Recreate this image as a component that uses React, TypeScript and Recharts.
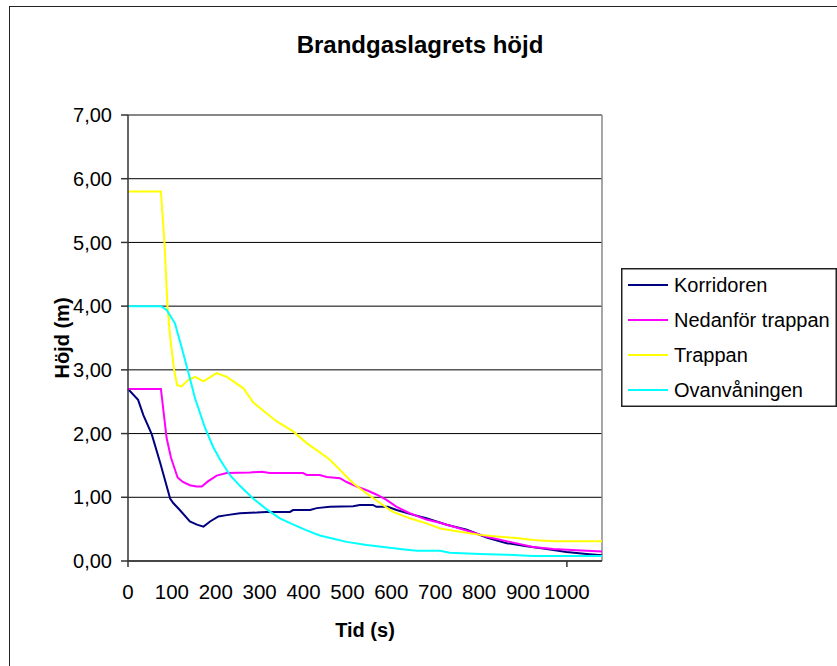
import { LineChart, Line, XAxis, YAxis, CartesianGrid, Legend, ReferenceLine } from 'recharts';

// [tid (s), höjd (m)] per mätpunkt
const korridoren = [
    [0, 2.7], [23, 2.53], [35, 2.29], [54, 1.99], [73, 1.55], [96, 0.98], [103, 0.91],
    [118, 0.8], [141, 0.62], [157, 0.57], [172, 0.54], [187, 0.62], [206, 0.7], [225, 0.72],
    [255, 0.75], [293, 0.76], [315, 0.77], [369, 0.77], [376, 0.8], [415, 0.8], [430, 0.83],
    [460, 0.85], [513, 0.86], [528, 0.88], [558, 0.88], [566, 0.85], [592, 0.85], [612, 0.8],
    [642, 0.74], [680, 0.67], [726, 0.57], [772, 0.49], [817, 0.37], [863, 0.28], [908, 0.23],
    [954, 0.19], [999, 0.14], [1045, 0.11], [1080, 0.09],
];

const nedanforTrappan = [
    [0, 2.7], [75, 2.7], [88, 1.93], [98, 1.62], [113, 1.31], [125, 1.24], [141, 1.19], [156, 1.17],
    [168, 1.17], [182, 1.25], [202, 1.34], [225, 1.38], [278, 1.39], [305, 1.4], [323, 1.38],
    [399, 1.38], [407, 1.35], [437, 1.35], [453, 1.32], [483, 1.3], [498, 1.24], [521, 1.17],
    [544, 1.11], [567, 1.04], [589, 0.96], [612, 0.85], [642, 0.75], [680, 0.65], [711, 0.6],
    [756, 0.51], [817, 0.38], [870, 0.3], [923, 0.22], [969, 0.19], [1022, 0.17], [1080, 0.15],
];

const trappan = [
    [0, 5.8], [75, 5.8], [83, 5.0], [90, 4.0], [96, 3.52], [105, 3.0], [112, 2.76], [122, 2.74],
    [137, 2.84], [153, 2.89], [172, 2.82], [202, 2.95], [225, 2.89], [240, 2.82], [263, 2.71],
    [285, 2.49], [312, 2.34], [339, 2.19], [377, 2.03], [407, 1.85], [430, 1.74], [460, 1.59],
    [483, 1.43], [513, 1.22], [544, 1.06], [574, 0.91], [604, 0.77], [642, 0.67], [680, 0.59],
    [711, 0.51], [756, 0.46], [802, 0.41], [847, 0.38], [885, 0.36], [923, 0.33], [970, 0.31],
    [1080, 0.31],
];

const ovanvaningen = [
    [0, 4.0], [75, 4.0], [88, 3.94], [107, 3.73], [111, 3.63], [122, 3.36], [134, 3.05], [153, 2.55],
    [175, 2.1], [194, 1.79], [210, 1.59], [232, 1.35], [255, 1.18], [285, 0.98], [316, 0.81],
    [346, 0.67], [377, 0.57], [407, 0.48], [437, 0.4], [468, 0.35], [498, 0.3], [544, 0.25],
    [582, 0.22], [620, 0.19], [658, 0.16], [711, 0.16], [733, 0.13], [802, 0.11], [863, 0.1],
    [923, 0.08], [1080, 0.08],
];

const xTicks = [0, 100, 200, 300, 400, 500, 600, 700, 800, 900, 1000];
const yTicks = [0, 1, 2, 3, 4, 5, 6, 7];

const series = [
    { name: 'Korridoren', color: '#000080', points: korridoren },
    { name: 'Nedanför trappan', color: '#FF00FF', points: nedanforTrappan },
    { name: 'Trappan', color: '#FFFF00', points: trappan },
    { name: 'Ovanvåningen', color: '#00FFFF', points: ovanvaningen },
];

const FONT = '"Liberation Sans", Arial, sans-serif';
const X_TICK_MARGIN = 23;

// only the first and last category get a tick mark, like the original sheet
function TidTick(props: any) {
    const { x, y, payload } = props;
    const axisY = y - X_TICK_MARGIN;
    const mark = payload.value === 0 || payload.value === 1000;
    return (
        <g>
            {mark && <line x1={x} x2={x} y1={axisY} y2={axisY + 6} stroke="#333" strokeWidth={1.5} />}
            <text x={x} y={y} dy="0.71em" textAnchor="middle" fontSize={20.5} fontFamily={FONT} fill="#000">
                {payload.value}
            </text>
        </g>
    );
}

function LegendBox() {
    return (
        <svg width={216} height={139} style={{ display: 'block' }}>
            <rect x={0.75} y={0.75} width={214.5} height={137.5} fill="#fff" stroke="#222" strokeWidth={1.5} />
            {series.map((s, i) => {
                const cy = 17 + i * 35;
                return (
                    <g key={s.name}>
                        <line x1={7} x2={47} y1={cy} y2={cy} stroke={s.color} strokeWidth={2} />
                        <text x={53} y={cy} dy="0.36em" fontSize={20} fontFamily={FONT} fill="#000">
                            {s.name}
                        </text>
                    </g>
                );
            })}
        </svg>
    );
}

export default function App() {
    return (
        <div style={{ position: 'absolute', left: 0, top: 0, width: 837, height: 666, overflow: 'hidden', background: '#fff' }}>
            {/* chart frame */}
            <div style={{ position: 'absolute', left: 9, top: 6, width: 900, height: 700, border: '1.5px solid #222' }} />
            <div
                style={{
                    position: 'absolute', left: 0, top: 30, width: 840, height: 30, lineHeight: '30px',
                    textAlign: 'center', fontFamily: FONT, fontWeight: 'bold', fontSize: 24, color: '#000',
                }}
            >
                Brandgaslagrets höjd
            </div>
            <div style={{ position: 'absolute', left: 0, top: 0 }}>
                <LineChart width={837} height={666} margin={{ top: 115, right: 235, bottom: 25, left: 68 }}>
                    <CartesianGrid horizontal vertical={false} stroke="#000" strokeWidth={1} />
                    <XAxis
                        dataKey="t"
                        type="number"
                        domain={[0, 1080]}
                        ticks={xTicks}
                        interval={0}
                        height={80}
                        tickLine={false}
                        tickSize={0}
                        tickMargin={X_TICK_MARGIN}
                        tick={<TidTick />}
                        axisLine={{ stroke: '#333', strokeWidth: 1.5 }}
                        label={{
                            value: 'Tid (s)', position: 'center', dy: 29,
                            style: { fontFamily: FONT, fontWeight: 'bold', fontSize: 20, fill: '#000' },
                        }}
                    />
                    <YAxis
                        type="number"
                        domain={[0, 7]}
                        ticks={yTicks}
                        interval={0}
                        width={60}
                        tickSize={7}
                        tickMargin={9}
                        tickFormatter={(v: number) => v.toFixed(2).replace('.', ',')}
                        tick={{ fontSize: 20, fontFamily: FONT, fill: '#000' }}
                        tickLine={{ stroke: '#333', strokeWidth: 1.5 }}
                        axisLine={{ stroke: '#333', strokeWidth: 1.5 }}
                        label={{
                            value: 'Höjd (m)', angle: -90, position: 'center', dx: -36,
                            style: { fontFamily: FONT, fontWeight: 'bold', fontSize: 20, fill: '#000' },
                        }}
                    />
                    <ReferenceLine y={7} stroke="#8a8a8a" strokeWidth={1.5} />
                    <ReferenceLine x={1080} stroke="#8a8a8a" strokeWidth={1.5} />
                    {series.map((s) => (
                        <Line
                            key={s.name}
                            name={s.name}
                            data={s.points.map(([t, h]) => ({ t, h }))}
                            dataKey="h"
                            type="linear"
                            stroke={s.color}
                            strokeWidth={2}
                            dot={false}
                            activeDot={false}
                            isAnimationActive={false}
                        />
                    ))}
                    <Legend
                        layout="horizontal"
                        align="center"
                        verticalAlign="middle"
                        wrapperStyle={{ left: 621, top: 268, width: 216, height: 139 }}
                        content={() => <LegendBox />}
                    />
                </LineChart>
            </div>
        </div>
    );
}
